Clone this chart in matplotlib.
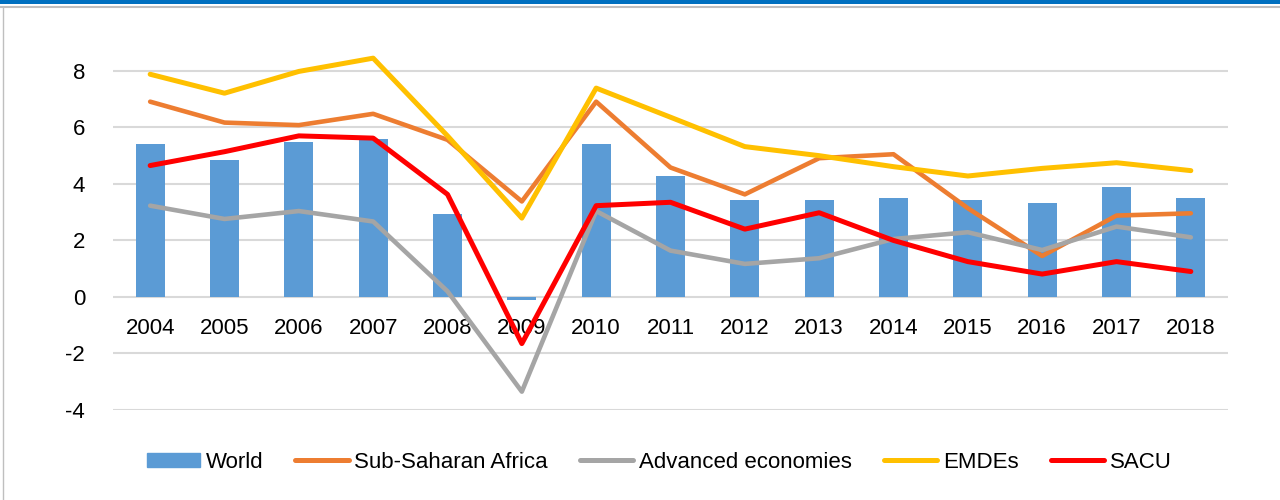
"""GDP growth: World vs regional aggregates, 2004-2018."""

import numpy as np
import matplotlib
matplotlib.use("Agg")
import matplotlib.pyplot as plt
from matplotlib.lines import Line2D

years = ["2004", "2005", "2006", "2007", "2008", "2009", "2010", "2011",
         "2012", "2013", "2014", "2015", "2016", "2017", "2018"]

world = [5.4, 4.83, 5.49, 5.59, 2.95, -0.1, 5.4, 4.27, 3.42, 3.42, 3.5, 3.42, 3.32, 3.88, 3.5]
ssa = [6.91, 6.17, 6.08, 6.48, 5.56, 3.38, 6.91, 4.58, 3.63, 4.91, 5.05, 3.14, 1.45, 2.88, 2.96]
advanced = [3.23, 2.76, 3.04, 2.67, 0.2, -3.35, 3.04, 1.64, 1.17, 1.37, 2.05, 2.29, 1.66, 2.49, 2.11]
emdes = [7.88, 7.21, 7.98, 8.45, 5.7, 2.79, 7.39, 6.36, 5.32, 5.0, 4.61, 4.28, 4.55, 4.75, 4.47]
sacu = [4.65, 5.14, 5.7, 5.62, 3.63, -1.65, 3.23, 3.35, 2.4, 2.98, 2.0, 1.25, 0.81, 1.25, 0.9]

plt.rcParams["font.family"] = ["Liberation Sans", "DejaVu Sans"]
plt.rcParams["axes.unicode_minus"] = False

fig = plt.figure(figsize=(12.8, 5), dpi=100)
ax = fig.add_axes([113 / 1280, 90 / 500, 1115 / 1280, 390 / 500])

x = np.arange(len(years))
ax.bar(x, world, width=0.39, color="#5B9BD5", zorder=2)

series = [
    (ssa, "#ED7D31", 3.3),
    (advanced, "#A5A5A5", 3.3),
    (emdes, "#FFC000", 3.6),
    (sacu, "#FF0000", 3.6),
]
for vals, col, lw in series:
    ax.plot(x, vals, color=col, lw=lw, solid_capstyle="round",
            solid_joinstyle="round", zorder=3)

ax.set_xlim(-0.5, len(years) - 0.5)
ax.set_ylim(-4, 9.8)
ax.set_yticks([-4, -2, 0, 2, 4, 6, 8])
ax.set_xticks(x)
ax.set_xticklabels(years)
ax.grid(axis="y", color="#D9D9D9", lw=1.5, zorder=0)
ax.set_axisbelow(True)
for s in ["top", "right", "left"]:
    ax.spines[s].set_visible(False)
ax.spines["bottom"].set_position(("data", 0))
ax.spines["bottom"].set_visible(False)
ax.tick_params(axis="x", length=0, pad=15, labelsize=16)
ax.tick_params(axis="y", length=0, pad=20, labelsize=16)

handles = [
    plt.Rectangle((0, 0), 1, 1, color="#5B9BD5"),
    Line2D([], [], color="#ED7D31", lw=3.6, solid_capstyle="round"),
    Line2D([], [], color="#A5A5A5", lw=3.6, solid_capstyle="round"),
    Line2D([], [], color="#FFC000", lw=3.6, solid_capstyle="round"),
    Line2D([], [], color="#FF0000", lw=3.6, solid_capstyle="round"),
]
labels = ["World", "Sub-Saharan Africa", "Advanced economies", "EMDEs", "SACU"]
fig.legend(handles, labels, loc="center", bbox_to_anchor=(659 / 1280, 1 - 462 / 500),
           ncol=5, frameon=False, fontsize=16, handlelength=2.4, handleheight=0.6,
           handletextpad=0.25, columnspacing=1.45)

# header decoration: blue band, thin gray rule, left border
fig.add_artist(plt.Rectangle((0, 1 - 4 / 500), 1, 4 / 500, color="#0070C0",
                             transform=fig.transFigure, lw=0))
fig.add_artist(Line2D([0, 1], [1 - 7 / 500, 1 - 7 / 500], color="#BFBFBF", lw=1.5,
                      transform=fig.transFigure))
fig.add_artist(Line2D([3 / 1280, 3 / 1280], [0, 1 - 7 / 500], color="#BFBFBF", lw=1,
                      transform=fig.transFigure))

fig.savefig("out.png", dpi=100)
